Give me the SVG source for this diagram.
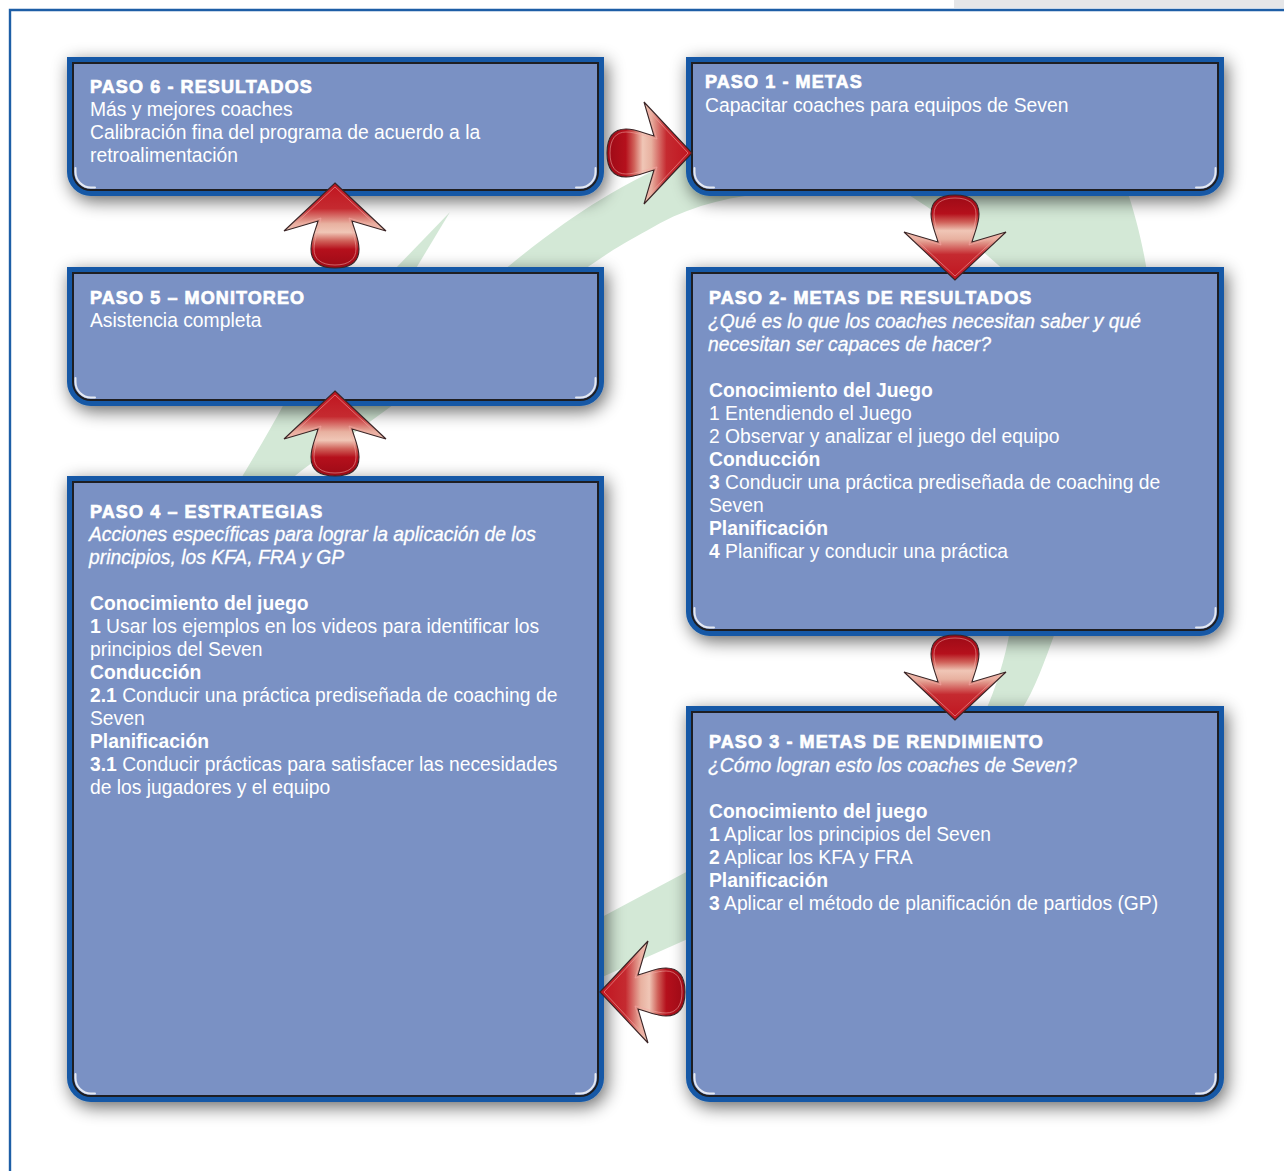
<svg xmlns="http://www.w3.org/2000/svg" width="1284" height="1171" viewBox="0 0 1284 1171">
<defs>
<style>
.bo{fill:#1458a6}
.bi{fill:#7a91c4;stroke:#1e1e22;stroke-width:2}
.hl{fill:none;stroke:#ffffff;stroke-width:2;stroke-opacity:0.8;stroke-linecap:round}
.gr{fill:#d3e8d6}
text{font-family:"Liberation Sans",Arial,Helvetica,sans-serif;fill:#ffffff}
.h{font-size:18px;font-weight:bold;letter-spacing:1.1px;stroke:#ffffff;stroke-width:0.7}
.t{font-size:19.3px}
.b{font-weight:bold}
.i{font-style:italic;stroke:#ffffff;stroke-width:0.3}
.ao{fill:url(#ag);stroke:#3a2426;stroke-width:1.1}
.ai{fill:none;stroke:#f4a9a6;stroke-width:0.7;stroke-opacity:0.8}
</style>
<filter id="sh" x="-10%" y="-15%" width="125%" height="140%">
<feGaussianBlur in="SourceAlpha" stdDeviation="9"/>
<feOffset dx="3" dy="5"/>
<feComponentTransfer><feFuncA type="linear" slope="0.6"/></feComponentTransfer>
<feMerge><feMergeNode/><feMergeNode in="SourceGraphic"/></feMerge>
</filter>
<linearGradient id="ag" gradientUnits="userSpaceOnUse" x1="0" y1="0" x2="0" y2="85">
<stop offset="0" stop-color="#c0141f"/>
<stop offset="0.3" stop-color="#c52a30"/>
<stop offset="0.48" stop-color="#e8b1a0"/>
<stop offset="0.58" stop-color="#f0c6b6"/>
<stop offset="0.68" stop-color="#d0625a"/>
<stop offset="0.78" stop-color="#b5101c"/>
<stop offset="1" stop-color="#9c0a16"/>
</linearGradient>
<g id="arrow">
<path class="ao" d="M0,0 L51,48 L17,38 C19,46 24,56 24,66 C24,78 16,85 0,85 C-16,85 -24,78 -24,66 C-24,56 -19,46 -17,38 L-51,48 Z"/>
<path class="ai" d="M0,4 L43,44 L14,35 C16,45 21,56 21,66 C21,76 14,82 0,82 C-14,82 -21,76 -21,66 C-21,56 -16,45 -14,35 L-43,44 Z"/>
</g>
</defs>
<rect width="1284" height="1171" fill="#ffffff"/>
<rect x="954" y="0" width="330" height="8" fill="#e5e6e8"/>
<path d="M10,1171 V10 H1284" fill="none" stroke="#1d5ea6" stroke-width="2.4"/>

<g id="ring">
<path class="gr" d="M504,270 C540,240 575,215 600,200 C630,182 660,166 700,150 L760,150 L760,194 C720,198 680,210 648,230 C620,245 600,258 584,270 Z"/>
<path class="gr" d="M900,190 L1127,190 C1135,215 1142,240 1147,272 L1006,272 C975,245 945,215 900,190 Z"/>
<path class="gr" d="M1010,630 L1056,630 C1045,660 1035,690 1020,712 L985,712 C995,690 1005,660 1010,630 Z"/>
<path class="gr" d="M600,918 L690,870 L690,938 L600,978 Z"/>
<path class="gr" d="M285,402 L397,402 C360,430 320,455 290,480 L240,480 C255,455 270,430 285,402 Z"/>
<path class="gr" d="M394,270 L415,270 L450,212 Z"/>
</g>

<g id="paso6">
<path class="bo" filter="url(#sh)" d="M67,57 H604 V172 A24,24 0 0 1 580,196 H91 A24,24 0 0 1 67,172 Z"/>
<path class="bi" d="M73,63 H598 V172 A18,18 0 0 1 580,190 H91 A18,18 0 0 1 73,172 Z"/>
<path class="hl" d="M75.5,168 V172 A15.5,15.5 0 0 0 91,187.5 H95 M595.5,168 V172 A15.5,15.5 0 0 1 580,187.5 H576"/>
<text class="h" x="90" y="93">PASO 6 - RESULTADOS</text>
<text class="t" x="90" y="116">Más y mejores coaches</text>
<text class="t" x="90" y="139">Calibración fina del programa de acuerdo a la</text>
<text class="t" x="90" y="162">retroalimentación</text>
</g>

<g id="paso1">
<path class="bo" filter="url(#sh)" d="M686,57 H1224 V172 A24,24 0 0 1 1200,196 H710 A24,24 0 0 1 686,172 Z"/>
<path class="bi" d="M692,63 H1218 V172 A18,18 0 0 1 1200,190 H710 A18,18 0 0 1 692,172 Z"/>
<path class="hl" d="M694.5,168 V172 A15.5,15.5 0 0 0 710,187.5 H714 M1215.5,168 V172 A15.5,15.5 0 0 1 1200,187.5 H1196"/>
<text class="h" x="705" y="88">PASO 1 - METAS</text>
<text class="t" x="705" y="112">Capacitar coaches para equipos de Seven</text>
</g>

<g id="paso5">
<path class="bo" filter="url(#sh)" d="M67,267 H604 V382 A24,24 0 0 1 580,406 H91 A24,24 0 0 1 67,382 Z"/>
<path class="bi" d="M73,273 H598 V382 A18,18 0 0 1 580,400 H91 A18,18 0 0 1 73,382 Z"/>
<path class="hl" d="M75.5,378 V382 A15.5,15.5 0 0 0 91,397.5 H95 M595.5,378 V382 A15.5,15.5 0 0 1 580,397.5 H576"/>
<text class="h" x="90" y="304">PASO 5 – MONITOREO</text>
<text class="t" x="90" y="327">Asistencia completa</text>
</g>

<g id="paso2">
<path class="bo" filter="url(#sh)" d="M686,267 H1224 V612 A24,24 0 0 1 1200,636 H710 A24,24 0 0 1 686,612 Z"/>
<path class="bi" d="M692,273 H1218 V612 A18,18 0 0 1 1200,630 H710 A18,18 0 0 1 692,612 Z"/>
<path class="hl" d="M694.5,608 V612 A15.5,15.5 0 0 0 710,627.5 H714 M1215.5,608 V612 A15.5,15.5 0 0 1 1200,627.5 H1196"/>
<text class="h" x="709" y="304">PASO 2- METAS DE RESULTADOS</text>
<text class="t i" x="708" y="328">¿Qué es lo que los coaches necesitan saber y qué</text>
<text class="t i" x="708" y="351">necesitan ser capaces de hacer?</text>
<text class="t b" x="709" y="397">Conocimiento del Juego</text>
<text class="t" x="709" y="420">1 Entendiendo el Juego</text>
<text class="t" x="709" y="443">2 Observar y analizar el juego del equipo</text>
<text class="t b" x="709" y="466">Conducción</text>
<text class="t" x="709" y="489"><tspan class="b">3</tspan> Conducir una práctica prediseñada de coaching de</text>
<text class="t" x="709" y="512">Seven</text>
<text class="t b" x="709" y="535">Planificación</text>
<text class="t" x="709" y="558"><tspan class="b">4</tspan> Planificar y conducir una práctica</text>
</g>

<g id="paso4">
<path class="bo" filter="url(#sh)" d="M67,476 H604 V1078 A24,24 0 0 1 580,1102 H91 A24,24 0 0 1 67,1078 Z"/>
<path class="bi" d="M73,482 H598 V1078 A18,18 0 0 1 580,1096 H91 A18,18 0 0 1 73,1078 Z"/>
<path class="hl" d="M75.5,1074 V1078 A15.5,15.5 0 0 0 91,1093.5 H95 M595.5,1074 V1078 A15.5,15.5 0 0 1 580,1093.5 H576"/>
<text class="h" x="90" y="518">PASO 4 – ESTRATEGIAS</text>
<text class="t i" x="89" y="541">Acciones específicas para lograr la aplicación de los</text>
<text class="t i" x="89" y="564">principios, los KFA, FRA y GP</text>
<text class="t b" x="90" y="610">Conocimiento del juego</text>
<text class="t" x="90" y="633"><tspan class="b">1</tspan> Usar los ejemplos en los videos para identificar los</text>
<text class="t" x="90" y="656">principios del Seven</text>
<text class="t b" x="90" y="679">Conducción</text>
<text class="t" x="90" y="702"><tspan class="b">2.1</tspan> Conducir una práctica prediseñada de coaching de</text>
<text class="t" x="90" y="725">Seven</text>
<text class="t b" x="90" y="748">Planificación</text>
<text class="t" x="90" y="771"><tspan class="b">3.1</tspan> Conducir prácticas para satisfacer las necesidades</text>
<text class="t" x="90" y="794">de los jugadores y el equipo</text>
</g>

<g id="paso3">
<path class="bo" filter="url(#sh)" d="M686,706 H1224 V1078 A24,24 0 0 1 1200,1102 H710 A24,24 0 0 1 686,1078 Z"/>
<path class="bi" d="M692,712 H1218 V1078 A18,18 0 0 1 1200,1096 H710 A18,18 0 0 1 692,1078 Z"/>
<path class="hl" d="M694.5,1074 V1078 A15.5,15.5 0 0 0 710,1093.5 H714 M1215.5,1074 V1078 A15.5,15.5 0 0 1 1200,1093.5 H1196"/>
<text class="h" x="709" y="748">PASO 3 - METAS DE RENDIMIENTO</text>
<text class="t i" x="708" y="772">¿Cómo logran esto los coaches de Seven?</text>
<text class="t b" x="709" y="818">Conocimiento del juego</text>
<text class="t" x="709" y="841"><tspan class="b">1</tspan> Aplicar los principios del Seven</text>
<text class="t" x="709" y="864"><tspan class="b">2</tspan> Aplicar los KFA y FRA</text>
<text class="t b" x="709" y="887">Planificación</text>
<text class="t" x="709" y="910"><tspan class="b">3</tspan> Aplicar el método de planificación de partidos (GP)</text>
</g>

<g id="connectors">
<use href="#arrow" transform="translate(692,153) rotate(90)"/>
<use href="#arrow" transform="translate(955,280) rotate(180)"/>
<use href="#arrow" transform="translate(955,720) rotate(180)"/>
<use href="#arrow" transform="translate(600,992) rotate(-90)"/>
<use href="#arrow" transform="translate(335,391)"/>
<use href="#arrow" transform="translate(335,183)"/>
</g>
</svg>
